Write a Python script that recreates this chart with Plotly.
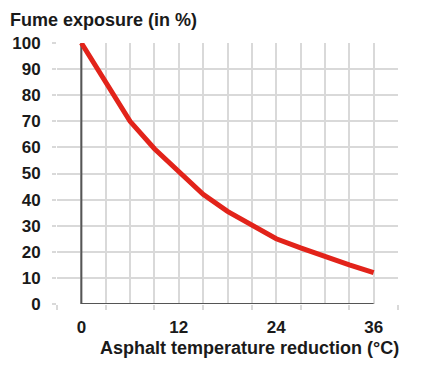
import plotly.graph_objects as go

# Data
temp_reduction = [0, 3, 6, 9, 12, 15, 18, 21, 24, 27, 30, 33, 36]
fume_exposure = [100, 85, 70, 59.5, 51, 42, 35.5, 30, 25, 21.5, 18, 15, 12]

x_label_vals = [0, 6, 12, 18, 24, 30, 36]
x_label_text = ["0", "", "12", "", "24", "", "36"]
y_ticks = [0, 10, 20, 30, 40, 50, 60, 70, 80, 90, 100]

title_text = "Fume exposure (in %)"
x_title = "Asphalt temperature reduction (°C)"

FONT = "Arial, 'Liberation Sans', sans-serif"
GRID = "#d9d9d9"
AXIS = "#555555"
TXT = "#1a1a1a"
RED = "#e2231a"

fig = go.Figure()
fig.add_trace(go.Scatter(
    x=temp_reduction, y=fume_exposure, mode="lines",
    line=dict(color=RED, width=5), hoverinfo="skip", showlegend=False,
))

# axis lines (x = 0 vertical, y = 0 horizontal over data span)
fig.add_shape(type="line", xref="x", yref="y", layer="between",
              x0=temp_reduction[0], x1=temp_reduction[0], y0=y_ticks[0], y1=y_ticks[-1],
              line=dict(color=AXIS, width=2))
fig.add_shape(type="line", xref="x", yref="y", layer="between",
              x0=temp_reduction[0], x1=temp_reduction[-1], y0=y_ticks[0], y1=y_ticks[0],
              line=dict(color=AXIS, width=2))

fig.update_layout(
    width=423, height=374,
    margin=dict(l=53, r=25, t=43, b=70),
    paper_bgcolor="white", plot_bgcolor="white",
    font=dict(family=FONT, color=TXT),
    title=dict(text="<b>" + title_text + "</b>", xref="container", yref="container",
               x=10 / 423, xanchor="left", y=1 - 20 / 374, yanchor="middle",
               font=dict(size=18, color=TXT, family=FONT)),
    xaxis=dict(
        range=[-3, 39], tickmode="array", tickvals=x_label_vals, ticktext=x_label_text,
        ticks="", showgrid=True, gridcolor=GRID, gridwidth=1.5, zeroline=False,
        showline=False, tickfont=dict(size=17, color=TXT, family=FONT, weight="bold"),
        ticklabelstandoff=11,
        minor=dict(tickmode="linear", tick0=3, dtick=6, ticks="outside", ticklen=5,
                   tickcolor=GRID, tickwidth=1.5, showgrid=True, gridcolor=GRID, gridwidth=1.5),
        fixedrange=True,
    ),
    yaxis=dict(
        range=[0, 100], tickmode="array", tickvals=y_ticks,
        ticks="outside", ticklen=4, tickcolor=GRID, tickwidth=1.5,
        showgrid=True, gridcolor=GRID, gridwidth=1.5, zeroline=False, showline=False,
        tickfont=dict(size=17, color=TXT, family=FONT, weight="bold"), ticklabelstandoff=8,
        fixedrange=True,
    ),
    annotations=[dict(
        text="<b>" + x_title + "</b>", xref="paper", yref="paper",
        x=(401 - 53) / 345, xanchor="right", y=(304 - 348) / 261, yanchor="middle",
        showarrow=False, font=dict(size=18, color=TXT, family=FONT),
    )],
)

fig.write_html("out.html", config={"displayModeBar": False},
               post_script="document.body.style.margin='0px';")
